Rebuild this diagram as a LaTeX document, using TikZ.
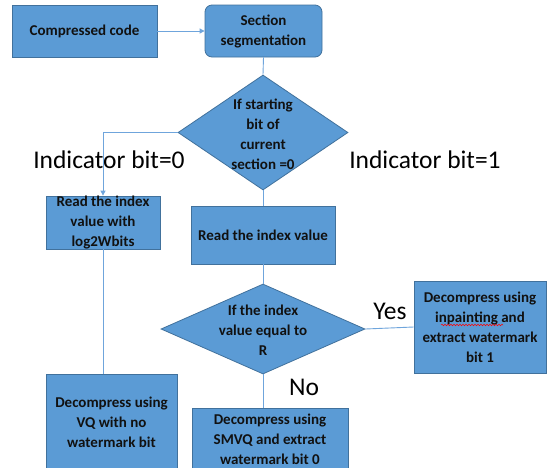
\documentclass[tikz,border=0pt]{standalone}
\usepackage{fontspec}
\setmainfont{Carlito}
\usetikzlibrary{shapes.geometric,arrows.meta,decorations.pathmorphing}
\definecolor{boxfill}{HTML}{5B9BD5}
\definecolor{boxline}{HTML}{41719C}
\definecolor{linecol}{HTML}{6FA5DC}
\definecolor{txtcol}{HTML}{111111}
\newcommand{\boxfont}{\bfseries\fontsize{15}{20}\selectfont}
\newcommand{\bigfont}{\fontsize{25.5}{30}\selectfont}
\tikzset{
  box/.style={draw=boxline, fill=boxfill, line width=0.8pt, inner sep=0pt,
    align=center, font=\boxfont, text=txtcol},
  txt/.style={inner sep=0pt, align=center, font=\boxfont, text=txtcol},
  dia/.style={diamond, draw=boxline, fill=boxfill, line width=0.8pt, inner sep=0pt},
  conn/.style={draw=linecol, line width=0.9pt},
  arr/.style={conn, -{Triangle[length=5pt,width=5pt]}},
  big/.style={font=\bigfont, inner sep=0pt, text=black}
}
\begin{document}
\begin{tikzpicture}[x=1pt,y=-1pt]
\useasboundingbox (0,0) rectangle (547,467);
\clip (0,0) rectangle (547,467);
\fill[white] (0,0) rectangle (547,467);
% boxes
\node[box, minimum width=145pt, minimum height=52pt] (cc) at (84.5,31) {Compressed code};
\node[box, rounded corners=7pt, minimum width=117pt, minimum height=52pt] (ss) at (263.5,31) {Section\\segmentation};
\node[dia, minimum width=170pt, minimum height=115pt] (d1) at (263,132.5) {};
\node[txt] (d1t) at (263,134) {If starting\\bit of\\current\\section =0};
\node[box, minimum width=114pt, minimum height=53pt] (rl) at (103,222.5) {};
\node[txt] (rlt) at (103,223) {Read the index\\value with\\log2Wbits};
\node[box, minimum width=144pt, minimum height=58pt] (ri) at (263,235) {Read the index value};
\node[dia, minimum width=204pt, minimum height=90pt] (d2) at (263,329) {};
\node[txt] (d2t) at (263,330) {If the index\\value equal to\\R};
\node[box, minimum width=132pt, minimum height=92pt] (yb) at (480,327) {Decompress using\\inpainting and\\extract watermark\\bit 1};
\node[box, minimum width=131pt, minimum height=96pt] (vq) at (111.5,422) {Decompress using\\VQ with no\\watermark bit};
\node[box, minimum width=156pt, minimum height=62pt] (sm) at (270,439) {Decompress using\\SMVQ and extract\\watermark bit 0};
% labels
\node[big] (l0) at (109,160) {Indicator bit=0};
\node[big] (l1) at (425,160) {Indicator bit=1};
\node[big] (ly) at (390,311.5) {Yes};
\node[big] (ln) at (304,387.5) {No};
% connectors
\draw[arr] (cc.east) -- (ss.west);
\draw[conn] (ss.south) -- (d1.north);
\draw[arr] (d1.west) -| (rl.north);
\draw[conn] (rl.south) -- (rl.south |- vq.north);
\draw[conn] (d1.south) -- (ri.north);
\draw[conn] (ri.south) -- (d2.north);
\draw[conn] (d2.east) -- (yb.west);
\draw[conn] (d2.south) -- (d2.south |- sm.north);
% spell-check squiggle
\coordinate (sq1) at (441,325);
\coordinate (sq2) at (503,325);
\draw[red, line width=0.5pt, decorate, decoration={snake, amplitude=0.8pt, segment length=3pt}] (sq1) -- (sq2);
\end{tikzpicture}
\end{document}
